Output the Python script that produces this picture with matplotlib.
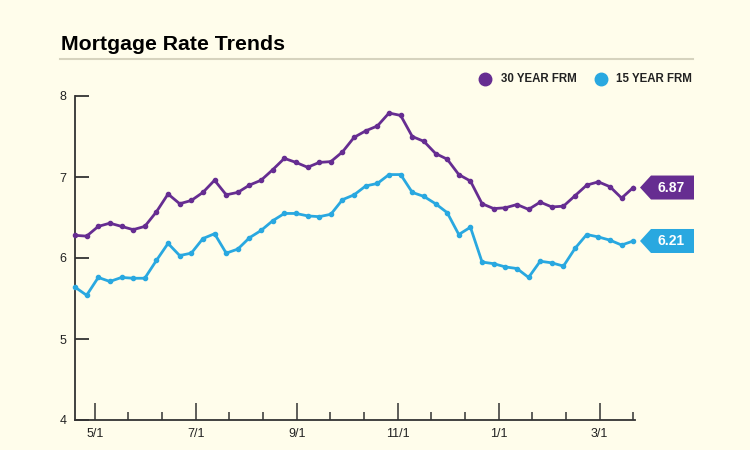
import matplotlib
matplotlib.use("Agg")
import matplotlib.pyplot as plt
from matplotlib.patches import Polygon
import matplotlib.transforms as mtransforms

# Weekly averages (Freddie Mac PMMS style), 4/6 through 3/21
weeks = ["4/6", "4/13", "4/20", "4/27", "5/4", "5/11", "5/18", "5/25", "6/1",
         "6/22", "6/29", "7/6", "7/13", "7/20", "7/27", "8/3", "8/10", "8/17",
         "8/24", "8/31", "9/7", "9/14", "9/21", "9/28", "10/5", "10/12", "10/19",
         "10/26", "11/2", "11/9", "11/16", "11/22", "11/30", "12/7", "12/14",
         "12/21", "12/28", "1/4", "1/11", "1/18", "1/25", "2/1", "2/8", "2/15",
         "2/22", "2/29", "3/7", "3/14", "3/21"]
frm30 = [6.28, 6.27, 6.39, 6.43, 6.39, 6.35, 6.39, 6.57, 6.79,
         6.67, 6.71, 6.81, 6.96, 6.78, 6.81, 6.90, 6.96, 7.09,
         7.23, 7.18, 7.12, 7.18, 7.19, 7.31, 7.49, 7.57, 7.63,
         7.79, 7.76, 7.50, 7.44, 7.29, 7.22, 7.03, 6.95,
         6.67, 6.61, 6.62, 6.66, 6.60, 6.69, 6.63, 6.64, 6.77,
         6.90, 6.94, 6.88, 6.74, 6.87]
frm15 = [5.64, 5.54, 5.76, 5.71, 5.76, 5.75, 5.75, 5.97, 6.18,
         6.03, 6.06, 6.24, 6.30, 6.06, 6.11, 6.25, 6.34, 6.46,
         6.55, 6.55, 6.52, 6.51, 6.54, 6.72, 6.78, 6.89, 6.92,
         7.03, 7.03, 6.81, 6.76, 6.67, 6.56, 6.29, 6.38,
         5.95, 5.93, 5.89, 5.87, 5.76, 5.96, 5.94, 5.90, 6.12,
         6.29, 6.26, 6.22, 6.16, 6.21]
tick_labels = ["5/1", "7/1", "9/1", "11/1", "1/1", "3/1"]

BG = "#FFFDEB"
PURPLE = "#662D91"
BLUE = "#29A8E0"
AXIS = "#333333"

plt.rcParams["font.family"] = ["Liberation Sans", "DejaVu Sans"]

fig = plt.figure(figsize=(7.5, 4.5), dpi=100, facecolor=BG)
ax = fig.add_axes([75 / 750, 30 / 450, 560 / 750, 324 / 450])
ax.set_facecolor(BG)

x = list(range(len(weeks)))
ax.plot(x, frm30, color=PURPLE, lw=2, marker="o", ms=3, clip_on=False, zorder=3)
ax.plot(x, frm15, color=BLUE, lw=2, marker="o", ms=3, clip_on=False, zorder=3)

ax.set_xlim(0, 48.15)
ax.set_ylim(4, 8)

# ticks: evenly spaced, last one on the final week
step = 2.894
minor = [48 - step * k for k in range(17)]
major = [minor[k] for k in (16, 13, 10, 7, 4, 1)]
ax.set_xticks(major)
ax.set_xticklabels(tick_labels)
ax.set_xticks(minor, minor=True)
ax.set_yticks([4, 5, 6, 7, 8])

for s in ("top", "right"):
    ax.spines[s].set_visible(False)
for s in ("left", "bottom"):
    ax.spines[s].set_color(AXIS)
    ax.spines[s].set_linewidth(1.3)

ax.tick_params(axis="y", direction="in", length=10, width=1.3, color=AXIS,
               labelsize=9, labelcolor="#222222", pad=6)
ax.tick_params(axis="x", which="major", direction="in", length=12, width=1.1,
               color=AXIS, labelsize=9, labelcolor="#222222", pad=6)
ax.tick_params(axis="x", which="minor", direction="in", length=6, width=1.1,
               color=AXIS)

# end-value tags
trans = mtransforms.blended_transform_factory(ax.transAxes, ax.transData)
h = 12 / 81
x_tip, x_body, x_end = (640 - 75) / 560, (651 - 75) / 560, (694 - 75) / 560
for vals, col in ((frm30, PURPLE), (frm15, BLUE)):
    v = vals[-1]
    poly = Polygon([(x_tip, v), (x_body, v + h), (x_end, v + h),
                    (x_end, v - h), (x_body, v - h)], closed=True,
                   transform=trans, facecolor=col, edgecolor="none",
                   clip_on=False)
    ax.add_patch(poly)
    ax.text((x_body + x_end) / 2 - 0.003, v, f"{v:.2f}", transform=trans,
            ha="center", va="center", color="white", fontsize=10,
            fontweight="bold")

# title and rule
fig.text(61 / 750, 1 - 45 / 450, "Mortgage Rate Trends", fontsize=15.3,
         fontweight="bold", color="#000000", va="center", ha="left")
fig.add_artist(plt.Line2D([60 / 750, 693 / 750], [1 - 59 / 450, 1 - 59 / 450],
                          color="#D6D3BE", lw=1.5))

# legend
ly = 1 - 79 / 450
for cx, tx, label, col in ((485, 501, "30 YEAR FRM", PURPLE),
                           (601, 616, "15 YEAR FRM", BLUE)):
    fig.add_artist(plt.Line2D([cx / 750], [ly], marker="o", ms=9, color=col,
                              lw=0))
    fig.text(tx / 750, ly, label, fontsize=8.3, fontweight="bold",
             color="#222222", va="center", ha="left")

fig.savefig("out.png", dpi=100, facecolor=BG)
